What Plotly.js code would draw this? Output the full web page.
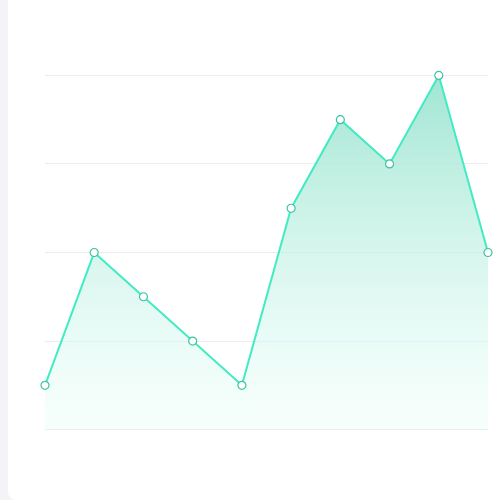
<!DOCTYPE html>
<html>
<head>
<meta charset="utf-8">
<script src="https://cdn.plot.ly/plotly-3.0.1.min.js"></script>
<style>
  html, body { margin: 0; padding: 0; background: #f3f3f8; }
  #card { position: absolute; left: 8px; top: -8px; width: 520px; height: 508px; background: #fff; border-radius: 8px; }
  #chart { position: absolute; left: 0; top: 0; width: 500px; height: 500px; }
</style>
</head>
<body>
<div id="card"></div>
<div id="chart"></div>
<script>
// values (one point per step)
var steps = [0, 1, 2, 3, 4, 5, 6, 7, 8, 9];
var values = [10, 40, 30, 20, 10, 50, 70, 60, 80, 40];
var gridTicks = [0, 20, 40, 60, 80];

try {
  var trace = {
    x: steps,
    y: values,
    type: 'scatter',
    mode: 'lines+markers',
    fill: 'tozeroy',
    fillgradient: {
      type: 'vertical',
      start: 0,
      stop: 80,
      colorscale: [[0, 'rgba(235,255,249,0.4)'], [1, 'rgba(160,229,210,1)']]
    },
    line: { color: '#41ebc3', width: 2 },
    marker: { size: 8, color: '#ffffff', line: { color: '#3cc39f', width: 1.2 } },
    cliponaxis: false,
    hoverinfo: 'none'
  };

  var layout = {
    width: 500,
    height: 500,
    margin: { l: 45, r: 12, t: 71, b: 66 },
    paper_bgcolor: 'rgba(0,0,0,0)',
    plot_bgcolor: 'rgba(0,0,0,0)',
    showlegend: false,
    xaxis: {
      range: [0, 9],
      showgrid: false,
      zeroline: false,
      showticklabels: false,
      showline: false,
      fixedrange: true
    },
    yaxis: {
      // padding so the 0 and 80 grid lines are not dropped at the edges
      range: [-1, 81],
      tickvals: gridTicks,
      showgrid: true,
      gridcolor: '#ebebf0',
      gridwidth: 1,
      zeroline: false,
      showticklabels: false,
      showline: false,
      fixedrange: true
    }
  };

  Plotly.newPlot('chart', [trace], layout, { displayModeBar: false, staticPlot: true });
} catch (e) {
  console.log(e);
}
</script>
</body>
</html>
